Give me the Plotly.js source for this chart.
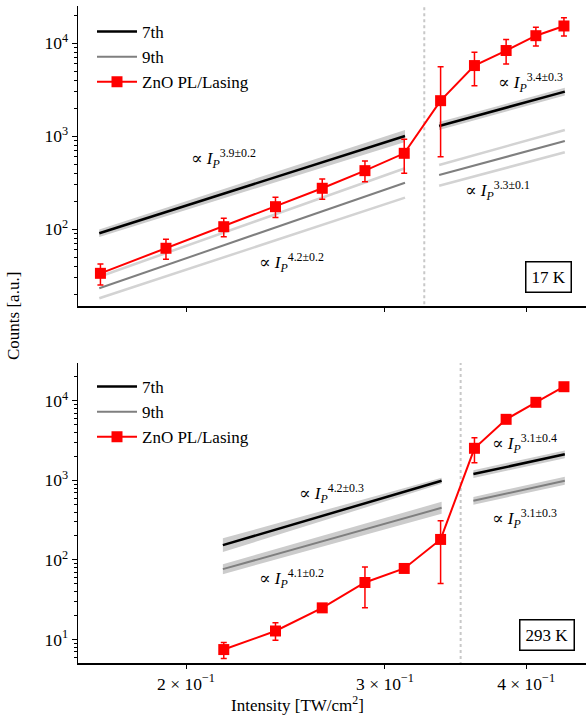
<!DOCTYPE html>
<html>
<head>
<meta charset="utf-8">
<script src="https://cdn.plot.ly/plotly-3.0.1.min.js"></script>
<style>html,body{margin:0;padding:0;background:#fff;}#chart{width:586px;height:717px;}</style>
</head>
<body>
<div id="chart"></div>
<script>
// ---------- data ----------
const intensityTop = [0.168, 0.192, 0.216, 0.240, 0.264, 0.288, 0.312, 0.336, 0.360, 0.384, 0.408, 0.432];
const countsTop    = [33.6, 62.5, 106.6, 175, 276, 427, 656, 2415, 5760, 8360, 12070, 15350];
const upperTop     = [42.3, 78, 131, 221, 347, 542, 929, 5610, 8000, 11000, 14860, 18840];
const lowerTop     = [25.2, 47.6, 83, 134, 210, 325, 400, 604, 3500, 5990, 9350, 11970];

const intensityBot = [0.216, 0.240, 0.264, 0.288, 0.312, 0.336, 0.360, 0.384, 0.408, 0.432];
const countsBot    = [7.48, 12.8, 25, 52.1, 78.2, 181, 2530, 5850, 9570, 15030];
const upperBot     = [9.17, 16.2, 27.8, 81.8, 82, 310, 3435, 6150, 9950, 15700];
const lowerBot     = [5.77, 9.8, 22.2, 25, 74.5, 50.6, 1664, 5550, 9200, 14400];

// fit lines, 17 K
const fitTopLeftX   = [0.1676, 0.3125];
const h7TopLeft     = [90.6, 1007];
const h7TopLeftLo   = [82.5, 868];
const h7TopLeftHi   = [99.6, 1168];
const h9TopLeft     = [23.2, 317];
const h9TopLeftHi   = [30.9, 453];
const h9TopLeftLo   = [18.1, 219];
const fitTopRightX  = [0.335, 0.4328];
const h7TopRight    = [1291, 3020];
const h7TopRightLo  = [1170, 2740];
const h7TopRightHi  = [1420, 3330];
const h9TopRight    = [383, 890];
const h9TopRightHi  = [491, 1169];
const h9TopRightLo  = [294, 673];

// fit lines, 293 K
const fitBotLeftX   = [0.2156, 0.3367];
const h7BotLeft     = [153.6, 988];
const h7BotLeftLo   = [126, 906];
const h7BotLeftHi   = [187, 1077];
const h9BotLeft     = [76.6, 452];
const h9BotLeftLo   = [66.3, 380];
const h9BotLeftHi   = [88.5, 538];
const fitBotRightX  = [0.3592, 0.4328];
const h7BotRight    = [1200, 2124];
const h7BotRightLo  = [1071, 1896];
const h7BotRightHi  = [1344, 2379];
const h9BotRight    = [554, 988];
const h9BotRightLo  = [495, 882];
const h9BotRightHi  = [620, 1107];

const thresholdTop = 0.325;
const thresholdBot = 0.350;

const xTickVals = [0.2, 0.3, 0.4];
const xTickText = ['2 × 10<sup>−1</sup>', '3 × 10<sup>−1</sup>', '4 × 10<sup>−1</sup>'];
const yTickVals = [10, 100, 1000, 10000];
const yTickText = ['10<sup>1</sup>', '10<sup>2</sup>', '10<sup>3</sup>', '10<sup>4</sup>'];
const yMinorVals = [];
[1, 10, 100, 1000, 10000].forEach(d => { for (let k = 2; k <= 9; k++) yMinorVals.push(k * d); });

const expLabelsTop = ['3.9±0.2', '4.2±0.2', '3.4±0.3', '3.3±0.1'];
const expLabelsBot = ['4.2±0.3', '4.1±0.2', '3.1±0.4', '3.1±0.3'];
const tempLabels = ['17 K', '293 K'];

// ---------- styles ----------
const FONT = 'Liberation Serif, DejaVu Serif, serif';
const BLACK = '#000000', GRAY = '#7f7f7f', LIGHT = '#d3d3d3', BAND = '#cccccc', RED = '#ff0000';

const traces = [];
function band(x, lo, hi, xa, ya) {
  traces.push({x: x, y: lo, xaxis: xa, yaxis: ya, mode: 'lines', line: {width: 0, color: BAND}, showlegend: false, hoverinfo: 'skip'});
  traces.push({x: x, y: hi, xaxis: xa, yaxis: ya, mode: 'lines', line: {width: 0, color: BAND}, fill: 'tonexty', fillcolor: BAND, showlegend: false, hoverinfo: 'skip'});
}
function line(x, y, color, w, xa, ya, name, leg, legendId, rank) {
  traces.push({x: x, y: y, xaxis: xa, yaxis: ya, mode: 'lines', line: {width: w, color: color},
    name: name || '', showlegend: !!leg, legend: legendId, legendrank: rank, hoverinfo: 'skip'});
}
function vline(xv, ya, xa, range) {
  traces.push({x: [xv, xv], y: range, xaxis: xa, yaxis: ya, mode: 'lines', line: {width: 2, color: '#c8c8c8', dash: 'dot'}, showlegend: false, hoverinfo: 'skip'});
}
function data(x, y, up, lo, xa, ya, legendId) {
  traces.push({x: x, y: y, xaxis: xa, yaxis: ya, mode: 'lines+markers', name: 'ZnO PL/Lasing',
    line: {color: RED, width: 2}, marker: {symbol: 'square', size: 11, color: RED},
    error_y: {type: 'data', symmetric: false, array: up.map((u, i) => u - y[i]), arrayminus: lo.map((l, i) => y[i] - l),
      color: RED, thickness: 1.5, width: 3},
    showlegend: true, legend: legendId, legendrank: 3});
}

// top panel
band(fitTopLeftX, h7TopLeftLo, h7TopLeftHi, 'x', 'y');
band(fitTopRightX, h7TopRightLo, h7TopRightHi, 'x', 'y');
line(fitTopLeftX, h9TopLeftHi, LIGHT, 2.5, 'x', 'y');
line(fitTopLeftX, h9TopLeftLo, LIGHT, 2.5, 'x', 'y');
line(fitTopRightX, h9TopRightHi, LIGHT, 2.5, 'x', 'y');
line(fitTopRightX, h9TopRightLo, LIGHT, 2.5, 'x', 'y');
line(fitTopLeftX, h7TopLeft, BLACK, 2.5, 'x', 'y', '7th', true, 'legend', 1);
line(fitTopRightX, h7TopRight, BLACK, 2.5, 'x', 'y');
line(fitTopLeftX, h9TopLeft, GRAY, 2, 'x', 'y', '9th', true, 'legend', 2);
line(fitTopRightX, h9TopRight, GRAY, 2, 'x', 'y');
vline(thresholdTop, 'y', 'x', [10, 40000]);
data(intensityTop, countsTop, upperTop, lowerTop, 'x', 'y', 'legend');

// bottom panel
band(fitBotLeftX, h7BotLeftLo, h7BotLeftHi, 'x2', 'y2');
band(fitBotLeftX, h9BotLeftLo, h9BotLeftHi, 'x2', 'y2');
band(fitBotRightX, h7BotRightLo, h7BotRightHi, 'x2', 'y2');
band(fitBotRightX, h9BotRightLo, h9BotRightHi, 'x2', 'y2');
line(fitBotLeftX, h7BotLeft, BLACK, 2.5, 'x2', 'y2', '7th', true, 'legend2', 1);
line(fitBotRightX, h7BotRight, BLACK, 2.5, 'x2', 'y2');
line(fitBotLeftX, h9BotLeft, GRAY, 2, 'x2', 'y2', '9th', true, 'legend2', 2);
line(fitBotRightX, h9BotRight, GRAY, 2, 'x2', 'y2');
vline(thresholdBot, 'y2', 'x2', [1, 40000]);
data(intensityBot, countsBot, upperBot, lowerBot, 'x2', 'y2', 'legend2');

// ---------- layout ----------
const W = 586, H = 717, L = 78, R = 0, T = 6, B = 54;
const plotW = W - L - R, plotH = H - T - B;
const px2x = px => (px - L) / plotW;
const py2y = py => (H - B - py) / plotH;
const xRange = [-0.79455, -0.34499];

function xaxis(showLabels, anchor) {
  return {type: 'log', range: xRange, anchor: anchor, tickmode: 'array', tickvals: xTickVals,
    ticktext: showLabels ? xTickText : ['', '', ''], ticks: 'outside', ticklen: 4, tickwidth: 1, tickcolor: '#000',
    showline: true, linecolor: '#000', linewidth: 1.5, mirror: false, showgrid: false, zeroline: false,
    tickfont: {family: FONT, size: 17.5, color: '#000'}};
}
function yaxis(range, domain, anchor) {
  return {type: 'log', range: range, domain: domain, anchor: anchor, tickmode: 'array', tickvals: yTickVals, ticktext: yTickText,
    ticks: 'outside', ticklen: 5, tickwidth: 1, tickcolor: '#000',
    minor: {tickmode: 'array', tickvals: yMinorVals, ticks: 'outside', ticklen: 2.5, tickwidth: 1, tickcolor: '#000', showgrid: false},
    showline: true, linecolor: '#000', linewidth: 1.5, showgrid: false, zeroline: false,
    tickfont: {family: FONT, size: 17.5, color: '#000'}};
}

function expText(e) { return '∝ <i>I</i><sub><i>P</i></sub><sup>' + e + '</sup>'; }
function ann(text, px, py, extra) {
  return Object.assign({text: text, xref: 'paper', yref: 'paper', x: px2x(px), y: py2y(py), xanchor: 'center', yanchor: 'middle',
    showarrow: false, font: {family: FONT, size: 17, color: '#000'}}, extra || {});
}

const topDomain = [py2y(306), 1];
const botDomain = [0, py2y(363)];

const legendFont = {family: FONT, size: 17, color: '#000'};
const layout = {
  width: W, height: H, margin: {l: L, r: R, t: T, b: B},
  paper_bgcolor: '#fff', plot_bgcolor: '#fff', font: {family: FONT, size: 17, color: '#000'},
  xaxis: xaxis(false, 'y'),
  yaxis: yaxis([1.175, 4.401], topDomain, 'x'),
  xaxis2: xaxis(true, 'y2'),
  yaxis2: yaxis([0.705, 4.475], botDomain, 'x2'),
  legend: {x: px2x(92), y: py2y(14), xanchor: 'left', yanchor: 'top', bgcolor: 'rgba(255,255,255,0)', borderwidth: 0,
    font: legendFont, traceorder: 'normal', itemwidth: 40},
  legend2: {x: px2x(92), y: py2y(369), xanchor: 'left', yanchor: 'top', bgcolor: 'rgba(255,255,255,0)', borderwidth: 0,
    font: legendFont, traceorder: 'normal', itemwidth: 40},
  annotations: [
    // top panel exponents
    ann(expText(expLabelsTop[0]), 223, 158),
    ann(expText(expLabelsTop[1]), 291, 262),
    ann(expText(expLabelsTop[2]), 530, 82),
    ann(expText(expLabelsTop[3]), 497, 190),
    // bottom panel exponents
    ann(expText(expLabelsBot[0]), 331, 493),
    ann(expText(expLabelsBot[1]), 291, 578),
    ann(expText(expLabelsBot[2]), 524, 443),
    ann(expText(expLabelsBot[3]), 524, 518),
    // temperature boxes
    ann(tempLabels[0], 548.5, 276.5, {bordercolor: '#000', borderwidth: 1.5, borderpad: 5, bgcolor: '#fff'}),
    ann(tempLabels[1], 547, 635, {bordercolor: '#000', borderwidth: 1.5, borderpad: 5, bgcolor: '#fff'}),
    // axis titles
    ann('Intensity [TW/cm<sup>2</sup>]', 297, 704),
    ann('Counts [a.u.]', 13, 316, {textangle: -90})
  ]
};

Plotly.newPlot('chart', traces, layout, {staticPlot: true, displayModeBar: false});
</script>
</body>
</html>
